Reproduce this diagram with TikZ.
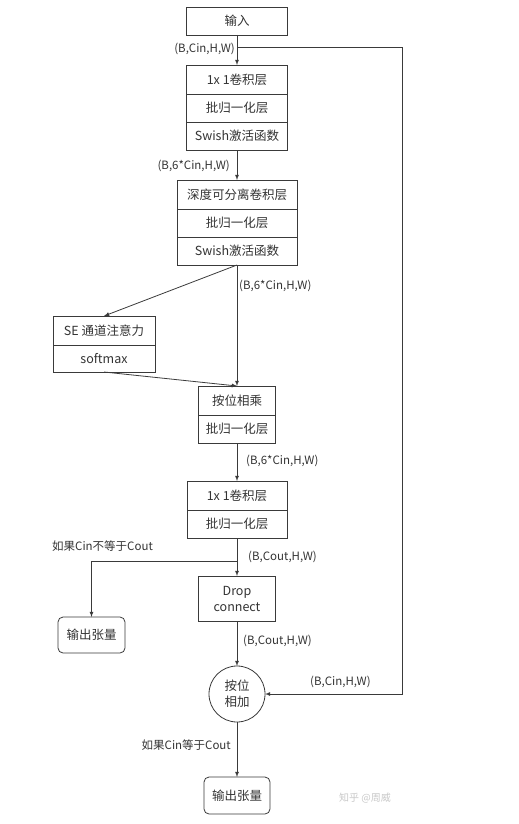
\documentclass[tikz,border=0pt]{standalone}
\usepackage{fontspec}
\setmainfont{Noto Sans CJK SC}
\usepackage{tikz}
\usetikzlibrary{positioning}
\usetikzlibrary{arrows}
\definecolor{linegray}{HTML}{3A3A3A}
\definecolor{textgray}{HTML}{333333}
\definecolor{markgray}{HTML}{C8C8C8}
\tikzset{
  layer_node/.style = {draw=linegray, line width=0.8pt, inner sep=0pt,
    outer sep=0pt, minimum height=28pt, align=center, text=textgray,
    font=\fontsize{12.5}{16}\selectfont},
  out_node/.style = {layer_node, rounded corners=5pt, minimum width=67pt,
    minimum height=36pt},
  add_node/.style = {layer_node, circle, minimum size=56pt},
  shape_label/.style = {text=textgray, inner sep=0pt,
    font=\fontsize{11.5}{13}\selectfont},
  flow_arrow/.style = {-latex, draw=linegray, line width=0.8pt}
}

\begin{document}
\begin{tikzpicture}[x=1pt, y=-1pt]
  \useasboundingbox (0,0) rectangle (519,824);
  \node [layer_node, minimum width=101pt] (in) at (237,21) {输入};
  % 1x1 block
  \node [layer_node, minimum width=101pt, minimum height=29pt, anchor=north] (c1a) at (237,65) {1x 1卷积层};
  \node [layer_node, minimum width=101pt, below=0pt of c1a] (c1b) {批归一化层};
  \node [layer_node, minimum width=101pt, below=0pt of c1b] (c1c) {Swish激活函数};
  % depthwise block
  \node [layer_node, minimum width=120pt, minimum height=29pt, anchor=north] (dw1) at (237,180) {深度可分离卷积层};
  \node [layer_node, minimum width=120pt, below=0pt of dw1] (dw2) {批归一化层};
  \node [layer_node, minimum width=120pt, below=0pt of dw2] (dw3) {Swish激活函数};
  % SE block
  \node [layer_node, minimum width=102pt, minimum height=29pt, anchor=north] (se1) at (104,316) {SE 通道注意力};
  \node [layer_node, minimum width=102pt, minimum height=27pt, below=0pt of se1] (se2) {softmax};
  \node [layer_node, minimum width=77pt, minimum height=29pt, anchor=north] (mul1) at (237,386) {按位相乘};
  \node [layer_node, minimum width=77pt, below=0pt of mul1] (mul2) {批归一化层};
  % projection block
  \node [layer_node, minimum width=100pt, minimum height=29pt, anchor=north] (c3a) at (237,481) {1x 1卷积层};
  \node [layer_node, minimum width=100pt, below=0pt of c3a] (c3b) {批归一化层};
  \node [layer_node, minimum width=77pt, minimum height=45pt, anchor=north] (drop) at (237,576) {Drop\\connect};
  \node [out_node] (out1) at (91.5,635) {输出张量};
  \node [add_node] (add) at (237,694) {按位\\相加};
  \node [out_node, minimum width=66pt, minimum height=37pt] (out2) at (237,795.5) {输出张量};

  % shape labels
  \node [shape_label, anchor=east] (l1) at (235,49) {(B,Cin,H,W)};
  \node [shape_label, anchor=east] (l2) at (230,166) {(B,6*Cin,H,W)};
  \node [shape_label, anchor=west] (l3) at (239,286) {(B,6*Cin,H,W)};
  \node [shape_label, anchor=west] (l4) at (246,461) {(B,6*Cin,H,W)};
  \node [shape_label, anchor=west] (l5) at (52,546) {如果Cin不等于Cout};
  \node [shape_label, anchor=west] (l6) at (248,557) {(B,Cout,H,W)};
  \node [shape_label, anchor=west] (l7) at (243,641) {(B,Cout,H,W)};
  \node [shape_label, anchor=west] (l8) at (310,682) {(B,Cin,H,W)};
  \node [shape_label, anchor=east] (l9) at (231,745) {如果Cin等于Cout};
  \node [text=markgray, font=\fontsize{10}{12}\selectfont] (mark) at (365,798) {知乎 @周威};

  \coordinate (split) at (237,47);
  \coordinate (skip) at (402,47);
  \coordinate (branch) at (237,561);

  \draw [flow_arrow] (in.south) -- (c1a.north);
  \draw [flow_arrow] (c1c.south) -- (dw1.north);
  \draw [flow_arrow] (dw3.south) -- (mul1.north);
  \draw [flow_arrow] (dw3.south) -- (se1.north);
  \draw [flow_arrow] (se2.south) -- (mul1.north);
  \draw [flow_arrow] (mul2.south) -- (c3a.north);
  \draw [flow_arrow] (c3b.south) -- (drop.north);
  \draw [flow_arrow] (branch) -| (out1.north);
  \draw [flow_arrow] (drop.south) -- (add.north);
  \draw [flow_arrow] (split) -- (skip) |- (add.east);
  \draw [flow_arrow] (add.south) -- (out2.north);
\end{tikzpicture}
\end{document}
